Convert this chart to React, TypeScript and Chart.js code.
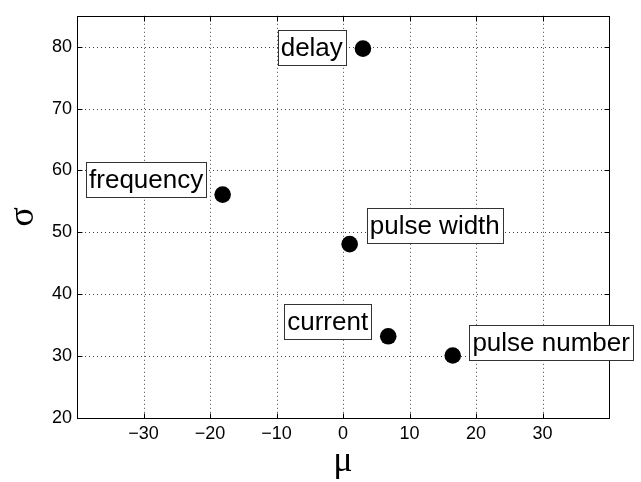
import React, { useEffect, useRef } from 'react';
import { Chart, registerables } from 'chart.js';

Chart.register(...registerables);

// ---- data ----
const names = ['delay', 'frequency', 'pulse width', 'current', 'pulse number'];
const muValues = [3.0, -18.1, 1.0, 6.8, 16.5];
const sigmaValues = [79.7, 56.1, 48.1, 33.2, 30.1];
// label box centres, in data units
const labelMu = [-4.7, -29.6, 13.8, -2.3, 31.3];
const labelSigma = [79.8, 58.5, 51.1, 35.6, 32.2];
const xTicks = [-30, -20, -10, 0, 10, 20, 30];
const yTicks = [20, 30, 40, 50, 60, 70, 80];
const xMin = -40;
const xMax = 40;
const yMin = 20;
const yMax = 85;
const xTitle = 'μ';
const yTitle = 'σ';

const fmt = (v: number) => (v < 0 ? '\u2212' + Math.abs(v) : String(v));

const overlay = {
  id: 'overlay',
  beforeDatasetsDraw(chart: any) {
    const { ctx, chartArea: a, scales } = chart;
    const x = scales.x;
    const y = scales.y;
    ctx.save();
    ctx.strokeStyle = '#444';
    ctx.lineWidth = 1;
    ctx.setLineDash([1, 3]);
    for (const v of xTicks) {
      const px = Math.round(x.getPixelForValue(v)) + 0.5;
      ctx.beginPath();
      ctx.moveTo(px, a.top);
      ctx.lineTo(px, a.bottom);
      ctx.stroke();
    }
    for (const v of yTicks) {
      const py = Math.round(y.getPixelForValue(v)) + 0.5;
      ctx.beginPath();
      ctx.moveTo(a.left, py);
      ctx.lineTo(a.right, py);
      ctx.stroke();
    }
    ctx.restore();
  },
  afterDatasetsDraw(chart: any) {
    const { ctx, chartArea: a, scales } = chart;
    const x = scales.x;
    const y = scales.y;
    ctx.save();
    ctx.setLineDash([]);
    ctx.strokeStyle = '#000';
    ctx.lineWidth = 1;
    const L = Math.round(a.left) + 0.5;
    const R = Math.round(a.right) + 0.5;
    const T = Math.round(a.top) + 0.5;
    const B = Math.round(a.bottom) + 0.5;
    ctx.strokeRect(L, T, R - L, B - T);
    const tl = 5;
    ctx.beginPath();
    for (const v of xTicks) {
      const px = Math.round(x.getPixelForValue(v)) + 0.5;
      ctx.moveTo(px, B);
      ctx.lineTo(px, B - tl);
      ctx.moveTo(px, T);
      ctx.lineTo(px, T + tl);
    }
    for (const v of yTicks) {
      const py = Math.round(y.getPixelForValue(v)) + 0.5;
      ctx.moveTo(L, py);
      ctx.lineTo(L + tl, py);
      ctx.moveTo(R, py);
      ctx.lineTo(R - tl, py);
    }
    ctx.stroke();

    // labels
    ctx.font = '26px "Liberation Sans", Arial, sans-serif';
    ctx.textAlign = 'center';
    ctx.textBaseline = 'middle';
    names.forEach((n, i) => {
      const cx = x.getPixelForValue(labelMu[i]);
      const cy = y.getPixelForValue(labelSigma[i]);
      const w = ctx.measureText(n).width + 6;
      const h = 35;
      const bx = Math.round(cx - w / 2) + 0.5;
      const by = Math.round(cy - h / 2) + 0.5;
      ctx.fillStyle = '#fff';
      ctx.fillRect(bx, by, Math.round(w), h);
      ctx.strokeStyle = '#333';
      ctx.strokeRect(bx, by, Math.round(w), h);
      ctx.fillStyle = '#000';
      ctx.fillText(n, cx, cy + 1);
    });

    // axis titles
    ctx.fillStyle = '#000';
    ctx.font = '36px "Liberation Serif", "DejaVu Serif", serif';
    ctx.textAlign = 'center';
    ctx.textBaseline = 'alphabetic';
    ctx.fillText(xTitle, (a.left + a.right) / 2, 471);
    ctx.save();
    ctx.translate(33, (a.top + a.bottom) / 2);
    ctx.rotate(-Math.PI / 2);
    ctx.fillText(yTitle, 0, 0);
    ctx.restore();
    ctx.restore();
  },
};

export default function App() {
  const ref = useRef<HTMLCanvasElement | null>(null);
  useEffect(() => {
    if (!ref.current) return;
    const chart = new Chart(ref.current, {
      type: 'scatter',
      data: {
        datasets: [
          {
            data: muValues.map((m, i) => ({ x: m, y: sigmaValues[i] })),
            backgroundColor: '#000',
            borderColor: '#000',
            borderWidth: 0,
            pointRadius: 8.3,
            pointHoverRadius: 8.3,
          },
        ],
      },
      options: {
        responsive: false,
        animation: false,
        devicePixelRatio: 1,
        layout: { padding: { left: 0, top: 10, right: 32, bottom: 0 } },
        plugins: { legend: { display: false }, tooltip: { enabled: false } },
        scales: {
          x: {
            type: 'linear',
            min: xMin,
            max: xMax,
            afterBuildTicks: (s: any) => {
              s.ticks = xTicks.map((v) => ({ value: v }));
            },
            afterFit: (s: any) => {
              s.height = 64;
            },
            grid: { display: false, drawTicks: false },
            border: { display: false },
            ticks: {
              padding: 5,
              color: '#000',
              font: { family: '"Liberation Sans", Arial, sans-serif', size: 18 },
              callback: (v: any) => fmt(Number(v)),
              maxRotation: 0,
              autoSkip: false,
            },
          },
          y: {
            type: 'linear',
            min: yMin,
            max: yMax,
            afterBuildTicks: (s: any) => {
              s.ticks = yTicks.map((v) => ({ value: v }));
            },
            afterFit: (s: any) => {
              s.width = 77;
            },
            grid: { display: false, drawTicks: false },
            border: { display: false },
            ticks: {
              padding: 5,
              color: '#000',
              font: { family: '"Liberation Sans", Arial, sans-serif', size: 18 },
              callback: (v: any) => fmt(Number(v)),
              autoSkip: false,
            },
          },
        },
      },
      plugins: [overlay],
    });
    return () => chart.destroy();
  }, []);
  return (
    <div style={{ position: 'absolute', left: 0, top: 0, width: 641, height: 482, background: '#fff' }}>
      <canvas ref={ref} width={641} height={482} />
    </div>
  );
}
